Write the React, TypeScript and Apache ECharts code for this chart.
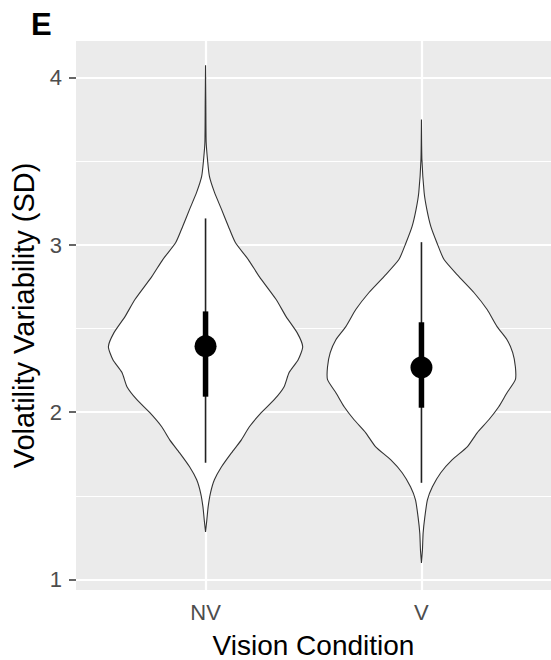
import React, { useEffect, useRef } from "react";
import * as echarts from "echarts";

// categories and tick labels
const categories = ["NV", "V"];
const yTicks = [1, 2, 3, 4];
const yMinorTicks = [1.5, 2.5, 3.5];

// violin outlines: y values and half widths (in category units)
const nvY = [4.075, 3.85, 3.614, 3.512, 3.41, 3.316, 3.213, 3.111, 3.015, 2.913, 2.811, 2.674, 2.572, 2.476, 2.392, 2.314, 2.237, 2.153, 2.075, 1.997, 1.913, 1.835, 1.757, 1.674, 1.596, 1.518, 1.434, 1.356, 1.284];
const nvHalf = [0, 0.0015, 0.003, 0.009, 0.018, 0.041, 0.074, 0.106, 0.138, 0.198, 0.249, 0.327, 0.373, 0.424, 0.45, 0.429, 0.387, 0.364, 0.318, 0.258, 0.203, 0.166, 0.12, 0.074, 0.041, 0.023, 0.012, 0.006, 0];
const vY = [3.751, 3.512, 3.314, 3.213, 3.111, 3.015, 2.913, 2.811, 2.716, 2.614, 2.512, 2.434, 2.356, 2.272, 2.195, 2.117, 2.033, 1.955, 1.877, 1.793, 1.716, 1.638, 1.554, 1.476, 1.374, 1.278, 1.177, 1.099];
const vHalf = [0, 0.0023, 0.0124, 0.0249, 0.0433, 0.071, 0.1046, 0.1737, 0.2429, 0.3041, 0.3502, 0.3963, 0.4226, 0.435, 0.435, 0.3963, 0.358, 0.312, 0.258, 0.212, 0.1429, 0.0894, 0.0507, 0.0276, 0.0157, 0.0078, 0.0046, 0];

// summary per category
const centers = [2.395, 2.268];
const innerLow = [2.093, 2.027];
const innerHigh = [2.603, 2.538];
const whiskerLow = [1.698, 1.578];
const whiskerHigh = [3.159, 3.017];

const profilesY = [nvY, vY];
const profilesHalf = [nvHalf, vHalf];

const FONT = "Liberation Sans, Arial, Helvetica, sans-serif";

export default function App() {
  const ref = useRef<HTMLDivElement>(null);
  useEffect(() => {
    if (!ref.current) return;
    const chart = echarts.init(ref.current, undefined, { renderer: "svg" });
    const option: any = {
      animation: false,
      backgroundColor: "#ffffff",
      textStyle: { fontFamily: FONT },
      graphic: [
        {
          type: "text",
          left: 31,
          top: 9,
          style: { text: "E", fontSize: 31, fontWeight: "bold", fill: "#000", fontFamily: FONT },
        },
      ],
      grid: {
        left: 76,
        right: 0,
        top: 41,
        bottom: 70,
        containLabel: false,
        outerBoundsMode: "none",
        show: true,
        backgroundColor: "#EBEBEB",
        borderWidth: 0,
      },
      xAxis: {
        type: "value",
        min: 0.4,
        max: 2.6,
        axisLine: { show: false },
        axisTick: {
          show: false,
          length: 7,
          customValues: [1, 2],
          lineStyle: { color: "#333333", width: 1.5 },
        },
        axisLabel: {
          customValues: [1, 2],
          formatter: (v: number) => categories[Math.round(v) - 1] ?? "",
          margin: 11,
          color: "#4D4D4D",
          fontSize: 22,
          fontFamily: FONT,
        },
        splitLine: { show: true, lineStyle: { color: "#ffffff", width: 2.2 } },
        name: "Vision Condition",
        nameLocation: "middle",
        nameGap: 41,
        nameTextStyle: { fontSize: 28, color: "#000", fontFamily: FONT },
      },
      yAxis: {
        type: "value",
        min: 0.937,
        max: 4.22,
        axisLine: { show: false },
        axisTick: {
          show: true,
          length: 7,
          customValues: yTicks,
          lineStyle: { color: "#333333", width: 1.5 },
        },
        axisLabel: {
          customValues: yTicks,
          formatter: (v: number) => String(v),
          margin: 14,
          color: "#4D4D4D",
          fontSize: 22,
          fontFamily: FONT,
        },
        splitLine: { show: true, lineStyle: { color: "#ffffff", width: 2.2 } },
        name: "Volatility Variability (SD)",
        nameLocation: "middle",
        nameGap: 38,
        nameTextStyle: { fontSize: 29, color: "#000", fontFamily: FONT },
      },
      series: [
        {
          type: "line",
          data: [],
          z: 1,
          silent: true,
          markLine: {
            z: 1,
            zlevel: 0,
            symbol: "none",
            silent: true,
            label: { show: false },
            lineStyle: { color: "#ffffff", width: 1.1, type: "solid" },
            data: yMinorTicks.map((v) => ({ yAxis: v })),
          },
        },
        {
          type: "custom",
          z: 10,
          data: categories.map((_, i) => [i + 1, centers[i]]),
          encode: { x: 0, y: 1 },
          renderItem: (params: any, api: any) => {
            const i = params.dataIndex;
            const cx = i + 1;
            const ys = profilesY[i];
            const hs = profilesHalf[i];
            const left = ys.map((y, k) => api.coord([cx - hs[k], y]));
            const right = ys.map((y, k) => api.coord([cx + hs[k], y])).reverse();
            const points = left.concat(right);
            const c = api.coord([cx, centers[i]]);
            const wl = api.coord([cx, whiskerLow[i]]);
            const wh = api.coord([cx, whiskerHigh[i]]);
            const il = api.coord([cx, innerLow[i]]);
            const ih = api.coord([cx, innerHigh[i]]);
            return {
              type: "group",
              children: [
                {
                  type: "polygon",
                  shape: { points, smooth: 0.2 },
                  style: { fill: "#ffffff", stroke: "#333333", lineWidth: 1.1 },
                },
                {
                  type: "line",
                  shape: { x1: wl[0], y1: wl[1], x2: wh[0], y2: wh[1] },
                  style: { stroke: "#222222", lineWidth: 1.6 },
                },
                {
                  type: "line",
                  shape: { x1: il[0], y1: il[1], x2: ih[0], y2: ih[1] },
                  style: { stroke: "#000000", lineWidth: 5.5 },
                },
                {
                  type: "circle",
                  shape: { cx: c[0], cy: c[1], r: 11 },
                  style: { fill: "#000000" },
                },
              ],
            };
          },
        },
      ],
    };
    chart.setOption(option);
    return () => chart.dispose();
  }, []);
  return (
    <div
      ref={ref}
      style={{ position: "fixed", left: 0, top: 0, width: 551, height: 660 }}
    />
  );
}
